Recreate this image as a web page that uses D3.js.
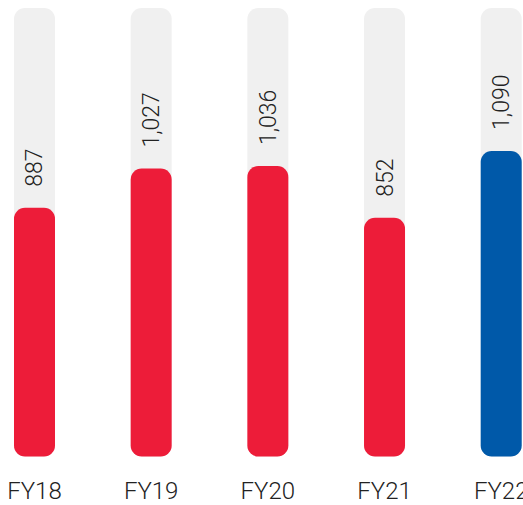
<!DOCTYPE html>
<html>
<head>
<meta charset="utf-8">
<script src="https://cdn.jsdelivr.net/npm/d3@7"></script>
<style>
  html, body { margin: 0; padding: 0; background: #fff; }
  svg { display: block; }
  text { font-family: Roboto, "Noto Sans", sans-serif; }
</style>
</head>
<body>
<svg id="chart" width="523" height="505"></svg>
<script>
// Fiscal-year totals
const categories = ["FY18", "FY19", "FY20", "FY21", "FY22"];
const values = [887, 1027, 1036, 852, 1090];
const valueLabels = ["887", "1,027", "1,036", "852", "1,090"];
const highlight = ["FY22"];

const svg = d3.select("#chart");

const x = d3.scaleBand()
  .domain(categories)
  .range([14, 521.7])
  .paddingInner(0.6486)
  .paddingOuter(0);

const y = d3.scaleLinear()
  .domain([0, 1600])
  .range([456.5, 8]);

const r = 11;
const bw = x.bandwidth();

// grey background tracks
svg.append("g").selectAll("rect")
  .data(categories)
  .join("rect")
  .attr("x", d => x(d))
  .attr("y", y(1600))
  .attr("width", bw)
  .attr("height", y(0) - y(1600))
  .attr("rx", r)
  .attr("fill", "#f0f0f0");

// value bars
svg.append("g").selectAll("rect")
  .data(categories)
  .join("rect")
  .attr("x", d => x(d))
  .attr("y", (d, i) => y(values[i]))
  .attr("width", bw)
  .attr("height", (d, i) => y(0) - y(values[i]))
  .attr("rx", r)
  .attr("fill", d => highlight.includes(d) ? "#0059a9" : "#ed1c39");

// rotated value labels above each bar
svg.append("g").selectAll("text")
  .data(categories)
  .join("text")
  .attr("transform", (d, i) => `translate(${x(d) + bw / 2 + 8},${y(values[i]) - 21}) rotate(-90)`)
  .attr("text-anchor", "start")
  .attr("font-size", 23)
  .attr("font-weight", 300)
  .attr("fill", "#222")
  .text((d, i) => valueLabels[i]);

// category axis labels
svg.append("g").selectAll("text")
  .data(categories)
  .join("text")
  .attr("x", d => x(d) + bw / 2)
  .attr("y", 499)
  .attr("text-anchor", "middle")
  .attr("font-size", 24)
  .attr("font-weight", 300)
  .attr("fill", "#222")
  .text(d => d);
</script>
</body>
</html>
